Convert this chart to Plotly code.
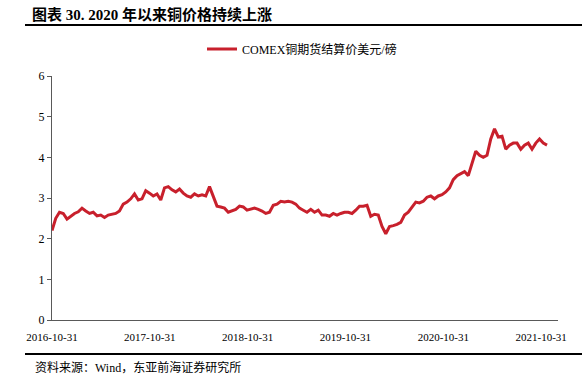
import pandas as pd
import plotly.graph_objects as go

# ---- data (biweekly readings, USD/lb) ----
start_date = "2016-10-31"
copper_price = [
    2.20, 2.50, 2.65, 2.62, 2.48, 2.55, 2.62, 2.66, 2.75, 2.68,
    2.62, 2.65, 2.56, 2.58, 2.52, 2.58, 2.60, 2.62, 2.68, 2.85,
    2.90, 2.98, 3.10, 2.95, 2.98, 3.18, 3.12, 3.05, 3.10, 2.95,
    3.25, 3.28, 3.20, 3.15, 3.22, 3.12, 3.05, 3.02, 3.10, 3.05,
    3.08, 3.05, 3.28, 3.05, 2.80, 2.78, 2.75, 2.65, 2.68, 2.72,
    2.80, 2.78, 2.70, 2.72, 2.75, 2.72, 2.68, 2.62, 2.65, 2.82,
    2.85, 2.92, 2.90, 2.92, 2.90, 2.85, 2.75, 2.70, 2.65, 2.72,
    2.65, 2.70, 2.58, 2.58, 2.55, 2.62, 2.58, 2.62, 2.65, 2.65,
    2.62, 2.70, 2.80, 2.80, 2.82, 2.55, 2.60, 2.58, 2.30, 2.12,
    2.30, 2.32, 2.35, 2.40, 2.58, 2.65, 2.78, 2.90, 2.88, 2.92,
    3.02, 3.05, 2.98, 3.05, 3.08, 3.15, 3.25, 3.45, 3.55, 3.60,
    3.65, 3.55, 3.85, 4.15, 4.05, 4.00, 4.05, 4.45, 4.70, 4.50,
    4.52, 4.20, 4.30, 4.35, 4.35, 4.20, 4.30, 4.35, 4.20, 4.35,
    4.45, 4.35, 4.30,
]
dates = pd.date_range(start_date, periods=len(copper_price), freq="14D")

tick_labels = ["2016-10-31", "2017-10-31", "2018-10-31",
               "2019-10-31", "2020-10-31", "2021-10-31"]
y_ticks = [0, 1, 2, 3, 4, 5, 6]

series_name = "COMEX铜期货结算价美元/磅"
title_text = "图表 30. 2020 年以来铜价格持续上涨"
source_text = "资料来源：Wind，东亚前海证券研究所"

SERIF = "Liberation Serif, Times New Roman, Noto Sans CJK SC, serif"
RED = "#C8202C"
AXIS = "#595959"

W, H = 582, 376
L, R, T, B = 52, 24, 76, 56
pw, ph = W - L - R, H - T - B


def px_x(p):
    return (p - L) / pw


def px_y(p):
    return (H - B - p) / ph


fig = go.Figure()
fig.add_trace(go.Scatter(
    x=dates, y=copper_price, mode="lines", name=series_name,
    line=dict(color=RED, width=3),
))

fig.update_layout(
    width=W, height=H,
    margin=dict(l=L, r=R, t=T, b=B, autoexpand=False),
    paper_bgcolor="white", plot_bgcolor="white",
    font=dict(family=SERIF, size=12, color="black"),
    showlegend=True,
    legend=dict(
        x=px_x(202), y=px_y(49), xanchor="left", yanchor="middle",
        orientation="h", font=dict(size=12, family=SERIF),
        bgcolor="rgba(0,0,0,0)",
    ),
    xaxis=dict(
        type="date",
        range=["2016-10-31", "2022-01-02"],
        tickvals=tick_labels, ticktext=tick_labels,
        showgrid=False, zeroline=False,
        showline=True, linecolor=AXIS, linewidth=1,
        ticks="", ticklabelstandoff=7,
        tickfont=dict(size=11, family=SERIF),
    ),
    yaxis=dict(
        range=[0, 6], tickvals=y_ticks,
        showgrid=False, zeroline=False,
        showline=True, linecolor=AXIS, linewidth=1,
        ticks="outside", ticklen=4, tickcolor=AXIS,
        tickfont=dict(size=12, family=SERIF),
    ),
)

fig.add_annotation(
    xref="paper", yref="paper", x=px_x(30), y=px_y(14),
    xanchor="left", yanchor="middle", showarrow=False,
    text="<b>" + title_text + "</b>",
    font=dict(size=15, family=SERIF, color="black"),
)
fig.add_annotation(
    xref="paper", yref="paper", x=px_x(33), y=px_y(367),
    xanchor="left", yanchor="middle", showarrow=False,
    text=source_text,
    font=dict(size=12, family=SERIF, color="black"),
)
fig.add_shape(type="line", xref="paper", yref="paper",
              x0=px_x(25), x1=px_x(582), y0=px_y(25), y1=px_y(25),
              line=dict(color="black", width=2))
fig.add_shape(type="line", xref="paper", yref="paper",
              x0=px_x(25), x1=px_x(582), y0=px_y(354), y1=px_y(354),
              line=dict(color="black", width=2))

fig.write_html(
    "out.html",
    config={"displayModeBar": False},
    post_script="document.body.style.margin='0';document.body.style.padding='0';",
)
